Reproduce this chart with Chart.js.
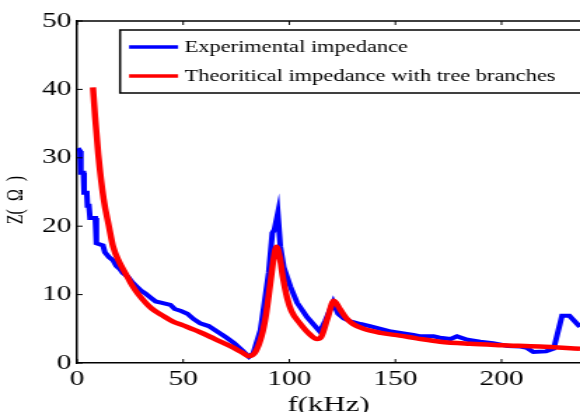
<!DOCTYPE html>
<html>
<head>
<meta charset="utf-8">
<script src="https://cdn.jsdelivr.net/npm/chart.js@4.4.1/dist/chart.umd.min.js"></script>
<style>
  html, body { margin: 0; padding: 0; background: #fff; overflow: hidden; }
  /* the reference figure is stretched sideways, so the canvas is too */
  #impedanceChart { display: block; transform: scaleX(1.401); transform-origin: 0 0; }
</style>
</head>
<body>
<canvas id="impedanceChart" width="414" height="412"></canvas>
<script>
// impedance vs frequency – measured curve against the tree-branch model

const seriesLabels = ['Experimental impedance', 'Theoritical impedance with tree branches'];

// measured (kHz / ohm)
const expFreq = [0.4, 1.4, 1.8, 3.0, 3.3, 4.6, 4.9, 5.6, 6.1, 8.6, 9.1, 12.2, 13.1, 15.0, 17.0, 18.5, 20.0, 21.5,
  24.0, 26.0, 28.0, 30.0, 32.0, 34.5, 37.0, 40.0, 44.0, 46.0, 49.0, 52.0, 55.0, 58.0, 62.0, 66.0, 70.0, 74.0,
  78.0, 81.0, 83.0, 86.4, 88.0, 90.3, 92.0, 93.0, 94.6, 95.8, 97.4, 100.6, 103.7, 108.4, 113.0, 114.4, 117.0,
  120.7, 123.0, 125.7, 128.8, 133.6, 138.0, 143.0, 148.0, 152.4, 158.5, 162.0, 168.0, 171.0, 176.0, 179.0,
  184.0, 190.0, 196.0, 203.0, 209.0, 212.0, 215.0, 221.0, 224.6, 228.5, 232.0, 237.0];
const expZ = [31.4, 31.0, 27.8, 27.8, 24.9, 24.9, 23.0, 23.0, 21.2, 21.2, 17.5, 17.2, 16.2, 15.5, 15.0, 14.2, 13.8, 13.2,
  12.6, 11.8, 11.2, 10.6, 10.2, 9.6, 9.0, 8.8, 8.5, 7.9, 7.6, 7.2, 6.4, 5.8, 5.4, 4.6, 3.8, 2.9,
  1.8, 0.9, 1.4, 4.8, 8.2, 13.2, 19.0, 19.5, 21.9, 17.0, 14.0, 11.1, 8.8, 6.7, 5.1, 4.6, 6.2,
  8.9, 7.2, 6.5, 6.1, 5.7, 5.4, 5.0, 4.6, 4.4, 4.1, 3.9, 3.9, 3.7, 3.5, 3.9,
  3.4, 3.1, 2.9, 2.5, 2.4, 2.2, 1.6, 1.7, 2.1, 6.9, 6.9, 5.3];

// model (kHz / ohm)
const theoFreq = [7.5, 8.5, 10.0, 12.5, 15.0, 17.0, 20.0, 23.0, 26.0, 29.0, 35.0, 40.0, 45.0, 50.0, 58.0, 65.0,
  72.0, 78.0, 81.0, 84.0, 87.0, 89.0, 91.0, 92.5, 94.0, 95.5, 97.0, 99.0, 101.0, 105.0, 110.0, 113.0, 115.0,
  118.0, 121.0, 124.0, 127.0, 130.0, 135.0, 143.0, 152.0, 160.0, 171.0, 185.0, 200.0, 218.0, 237.0];
const theoZ = [40.3, 36.0, 30.5, 24.0, 20.0, 17.0, 14.7, 13.0, 11.3, 10.0, 8.0, 7.0, 6.1, 5.5, 4.5, 3.5,
  2.5, 1.5, 1.0, 1.6, 4.0, 7.0, 11.5, 15.0, 17.0, 15.5, 12.5, 9.5, 7.6, 5.8, 4.1, 3.5, 3.8,
  6.5, 9.1, 7.8, 6.5, 5.7, 5.0, 4.4, 4.0, 3.6, 3.1, 2.8, 2.6, 2.4, 2.1];

const freqTicks = [0, 50, 100, 150, 200];
const zTicks = [0, 10, 20, 30, 40, 50];

const serif = 'Liberation Serif, Times New Roman, serif';

// matlab-style box: top edge, inward ticks, boxed legend
const frameAndLegend = {
  id: 'frameAndLegend',
  afterDatasetsDraw(chart) {
    const { ctx, chartArea: a, scales: { x, y } } = chart;
    ctx.save();
    ctx.strokeStyle = '#000';
    ctx.lineWidth = 1.5;
    ctx.beginPath();
    ctx.moveTo(a.left, a.top);
    ctx.lineTo(a.right, a.top);
    ctx.stroke();

    ctx.lineWidth = 1;
    ctx.beginPath();
    x.ticks.forEach(t => {
      const px = x.getPixelForValue(t.value);
      ctx.moveTo(px, a.bottom); ctx.lineTo(px, a.bottom - 4);
      ctx.moveTo(px, a.top); ctx.lineTo(px, a.top + 4);
    });
    y.ticks.forEach(t => {
      const py = y.getPixelForValue(t.value);
      ctx.moveTo(a.left, py); ctx.lineTo(a.left + 4, py);
    });
    ctx.stroke();

    // legend
    ctx.font = '16px ' + serif;
    const sets = chart.data.datasets;
    const textW = Math.max(...sets.map(d => ctx.measureText(d.label).width));
    const boxX = a.left + 30.7, boxY = a.top + 9;
    const boxW = 46 + textW + 20, boxH = 63;
    ctx.fillStyle = '#fff';
    ctx.fillRect(boxX, boxY, boxW, boxH);
    ctx.lineWidth = 1.5;
    ctx.strokeRect(boxX, boxY, boxW, boxH);
    sets.forEach((d, i) => {
      const rowY = boxY + 17 + i * 29;
      ctx.strokeStyle = d.borderColor;
      ctx.lineWidth = 3.5;
      ctx.beginPath();
      ctx.moveTo(boxX + 6.4, rowY);
      ctx.lineTo(boxX + 41.4, rowY);
      ctx.stroke();
      ctx.fillStyle = '#000';
      ctx.textBaseline = 'middle';
      ctx.fillText(d.label, boxX + 46, rowY + 1);
    });
    ctx.restore();
  }
};

new Chart(document.getElementById('impedanceChart'), {
  type: 'line',
  data: {
    datasets: [
      {
        label: seriesLabels[0],
        data: expFreq.map((f, i) => ({ x: f, y: expZ[i] })),
        borderColor: '#0000ff',
        borderWidth: 4,
        pointRadius: 0,
        tension: 0,
        order: 1
      },
      {
        label: seriesLabels[1],
        data: theoFreq.map((f, i) => ({ x: f, y: theoZ[i] })),
        borderColor: '#ff0000',
        borderWidth: 4.5,
        pointRadius: 0,
        cubicInterpolationMode: 'monotone',
        order: 0
      }
    ]
  },
  options: {
    responsive: false,
    animation: false,
    devicePixelRatio: 1,
    layout: { padding: { top: 21, right: 0, left: 0, bottom: 0 } },
    plugins: { legend: { display: false }, tooltip: { enabled: false } },
    scales: {
      x: {
        type: 'linear',
        min: 0,
        max: 237,
        afterBuildTicks: scale => { scale.ticks = freqTicks.map(v => ({ value: v })); },
        afterFit: scale => { scale.height = 49; },
        ticks: { color: '#000', font: { family: serif, size: 21 }, padding: 4, maxRotation: 0 },
        grid: { drawOnChartArea: false, drawTicks: false },
        border: { color: '#000', width: 1.5 },
        title: { display: true, text: 'f(kHz)', color: '#000', font: { family: serif, size: 22 }, padding: { top: 0, bottom: -6 } }
      },
      y: {
        min: 0,
        max: 50,
        afterBuildTicks: scale => { scale.ticks = zTicks.map(v => ({ value: v })); },
        afterFit: scale => { scale.width = 55; },
        ticks: { color: '#000', font: { family: serif, size: 21 }, padding: 4 },
        grid: { drawOnChartArea: false, drawTicks: false },
        border: { color: '#000', width: 1.5 },
        title: { display: true, text: 'Z(\u2002\u03A9\u2002)\u2002\u2002', color: '#000', font: { family: serif, size: 16 }, padding: { top: 2, bottom: 0 } }
      }
    }
  },
  plugins: [frameAndLegend]
});
</script>
</body>
</html>
